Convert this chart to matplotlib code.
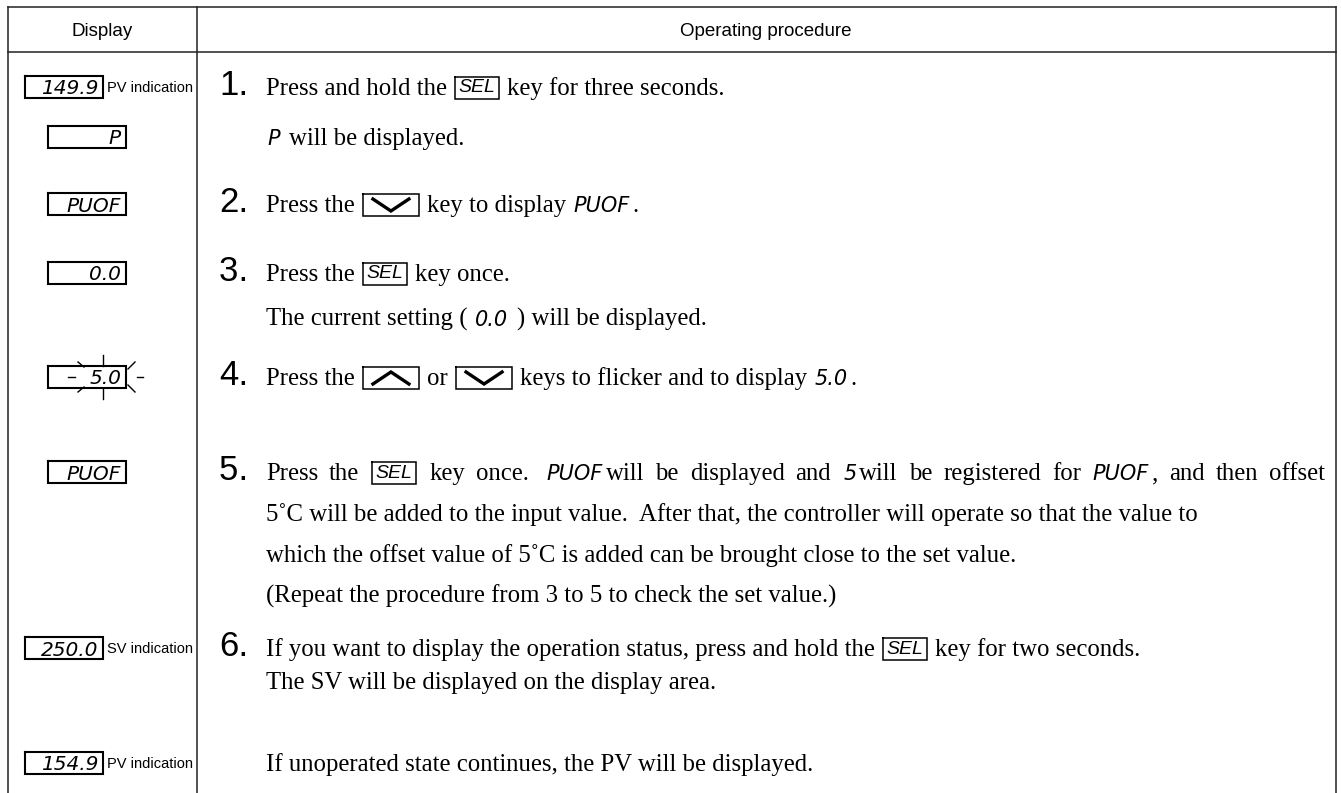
import re
import matplotlib
matplotlib.use('Agg')
import matplotlib.pyplot as plt
from matplotlib import font_manager

W, H = 1341, 793
SERIF = 'Liberation Serif'
SANS = 'Liberation Sans'
_names = {f.name for f in font_manager.fontManager.ttflist}
NARROW = 'Liberation Sans Narrow' if 'Liberation Sans Narrow' in _names else SANS
SEGF = 'DejaVu Sans'

# header cells
headers = ['Display', 'Operating procedure']

# left column: readouts shown on the controller and their captions
readouts = ['149.9', 'P', 'PUOF', '0.0', '5.0', 'PUOF', '250.0', '154.9']
captions = ['PV indication', '', '', '', '', '', 'SV indication', 'PV indication']
flicker = [False, False, False, False, True, False, False, False]

# right column: step numbers and the text of every line
SEL = ('key', 'SEL')
UP = ('up', '')
DOWN = ('down', '')
step_nums = ['1', '', '2', '3', '', '4', '5', '', '', '', '6', '', '']
step_text = [
    ['Press and hold the ', SEL, ' key for three seconds.'],
    [('seg', 'P'), ' will be displayed.'],
    ['Press the ', DOWN, ' key to display ', ('seg', 'PUOF'), '.'],
    ['Press the ', SEL, ' key once.'],
    ['The current setting ( ', ('seg', '0.0'), ' ) will be displayed.'],
    ['Press the ', UP, ' or ', DOWN, ' keys to flicker and to display ', ('seg', '5.0'), '.'],
    ['Press the ', SEL, ' key once.  ', ('seg', 'PUOF'), 'will be displayed and ', ('seg', '5'),
     'will be registered for ', ('seg', 'PUOF'), ', and then offset'],
    ['5˚C will be added to the input value.  After that, the controller will operate so that the value to'],
    ['which the offset value of 5˚C is added can be brought close to the set value.'],
    ['(Repeat the procedure from 3 to 5 to check the set value.)'],
    ['If you want to display the operation status, press and hold the ', SEL, ' key for two seconds.'],
    ['The SV will be displayed on the display area.'],
    ['If unoperated state continues, the PV will be displayed.'],
]

# layout (pixels, y measured downwards)
line_y = [87, 137, 204, 273, 318, 377, 472, 513, 554, 595, 648, 681, 763]
justify = [None] * 6 + [1325] + [None] * 6
readout_line = [0, 1, 2, 3, 5, 6, 10, 12]
FS = 17.8        # body text size
SP = FS * 100 / 72 * 0.25
X_TEXT = 266

fig = plt.figure(figsize=(W / 100, H / 100), dpi=100)
ax = fig.add_axes([0, 0, 1, 1])
ax.set_xlim(0, W)
ax.set_ylim(H, 0)
ax.axis('off')
rend = fig.canvas.get_renderer()


def width(t):
    return t.get_window_extent(renderer=rend).width


def rect(x0, y0, x1, y1, lw=1.1):
    ax.plot([x0, x1, x1, x0, x0], [y0, y0, y1, y1, y0], color='black', lw=lw,
            solid_joinstyle='miter')


# table frame
lc = '#222222'
ax.plot([8, 8], [7, H], color=lc, lw=1.1)
ax.plot([1336, 1336], [7, H], color=lc, lw=1.1)
ax.plot([8, 1336], [7, 7], color=lc, lw=1.1)
ax.plot([8, 1336], [52, 52], color=lc, lw=1.1)
ax.plot([197, 197], [7, H], color=lc, lw=1.1)
ax.text(102, 31, headers[0], family=SANS, size=13.5, ha='center', va='center')
ax.text(766, 31, headers[1], family=SANS, size=13.5, ha='center', va='center')

# readout boxes
for val, cap, fl, li in zip(readouts, captions, flicker, readout_line):
    cy = line_y[li]
    bx = 25 if cap else 48
    top, bot = cy - 11, cy + 11
    rect(bx, top, bx + 78, bot, lw=1.5)
    ax.text(bx + 73, cy + 7.5, val, family=SEGF, style='oblique', size=14.5,
            ha='right', va='baseline')
    if cap:
        ax.text(bx + 82, cy + 5, cap, family=NARROW, size=10.5, va='baseline')
    if fl:
        marks = [((20, cy), (27, cy)), ((89, cy), (95, cy)),
                 ((55, top - 11), (55, top)), ((55, bot), (55, bot + 11)),
                 ((30, top - 4), (36, top + 1)), ((30, bot + 4), (36, bot - 1)),
                 ((80, top + 3), (87, top - 4)), ((80, bot - 3), (87, bot + 4))]
        for (x0, y0), (x1, y1) in marks:
            ax.plot([bx + x0, bx + x1], [y0, y1], color='black', lw=1.0)


def draw_key(x, base, label):
    x += 2
    rect(x, base - 18, x + 44, base + 4, lw=1.1)
    ax.text(x + 22, base - 7, label, family=SANS, style='italic', size=14,
            ha='center', va='center')


def draw_arrow(x, base, up):
    x += 2
    top, bot = base - 18, base + 4
    rect(x, top, x + 56, bot, lw=1.1)
    if up:
        xs, ys = [x + 10, x + 28, x + 46], [bot - 5, top + 5, bot - 5]
    else:
        xs, ys = [x + 10, x + 28, x + 46], [top + 5, bot - 5, top + 5]
    ax.plot(xs, ys, color='black', lw=2.4, solid_joinstyle='miter')


def draw_line(x0, base, tokens, right=None):
    # only a justified line is split word by word
    items = []
    for tok in tokens:
        if isinstance(tok, str):
            parts = re.split(r'( +)', tok) if right else re.split(r'(^ +| +$)', tok)
            for p in parts:
                if not p:
                    continue
                if p.strip(' ') == '':
                    items.append(('gap', len(p) * SP))
                else:
                    t = ax.text(0, base, p, family=SERIF, size=FS, va='baseline')
                    items.append(('text', t, width(t)))
        elif tok[0] == 'seg':
            t = ax.text(0, base, tok[1], family=SEGF, style='oblique', size=15,
                        va='baseline')
            items.append(('seg', t, width(t) + 4))
        elif tok[0] == 'key':
            items.append(('key', tok[1], 48))
        else:
            items.append((tok[0], None, 60))
    natural = sum(it[1] if it[0] == 'gap' else it[2] for it in items)
    ngaps = sum(1 for it in items if it[0] == 'gap')
    extra = (right - x0 - natural) / ngaps if right and ngaps else 0
    x = x0
    for it in items:
        if it[0] == 'gap':
            x += it[1] + extra
            continue
        if it[0] == 'text':
            it[1].set_x(x)
        elif it[0] == 'seg':
            it[1].set_x(x + 1)
        elif it[0] == 'key':
            draw_key(x, base, it[1])
        else:
            draw_arrow(x, base, it[0] == 'up')
        x += it[2]
    return x


for num, tokens, cy, right in zip(step_nums, step_text, line_y, justify):
    base = cy + 8
    if num:
        t = ax.text(219, base, num, family=SANS, size=25, va='baseline')
        ax.text(219 + width(t) + 1, base, '.', family=SANS, size=17, va='baseline',
                fontweight='bold')
    draw_line(X_TEXT, base, tokens, right)

fig.savefig('out.png', dpi=100)
